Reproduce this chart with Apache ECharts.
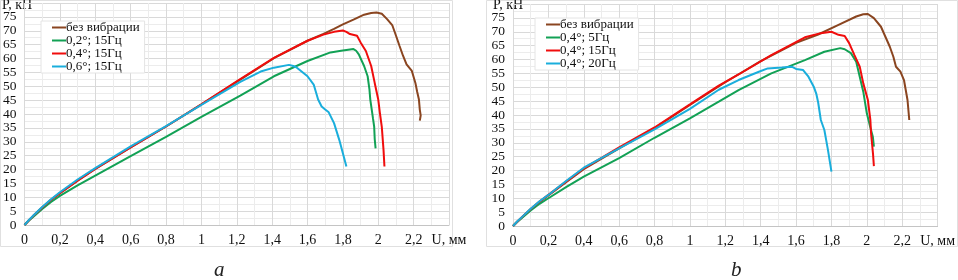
<!DOCTYPE html>
<html style="height: 100%">
<head>
    <meta charset="utf-8">
</head>
<body style="height: 100%; margin: 0; background: #fff">
    <div id="container" style="width: 958px; height: 280px"></div>
    <script src="https://cdn.jsdelivr.net/npm/echarts@6/dist/echarts.min.js"></script>
    <script type="text/javascript">
        // данные: [U, мм ; P, кН]
        var namesA = ['без вибрации', '0,2°; 15Гц', '0,4°; 15Гц', '0,6°; 15Гц'];
        var namesB = ['без вибрации', '0,4°; 5Гц', '0,4°; 15Гц', '0,4°; 20Гц'];
        var colors = ['#8a4520', '#12a155', '#f00d0d', '#1aaedc'];

        // график a
        var brownA = [[0,0],[0.025,1.7],[0.05,3.3],[0.1,6.3],[0.15,9.1],[0.2,11.5],[0.3,16],[0.4,20.2],[0.6,28],[0.8,35.5],[1.0,43.5],[1.2,51.6],[1.41,60.1],[1.6,66.4],[1.69,68.9],[1.75,70.7],[1.8,72.3],[1.86,74],[1.92,75.8],[1.96,76.4],[1.99,76.6],[2.02,76.1],[2.05,74.2],[2.08,71.9],[2.1,68.3],[2.12,64.6],[2.14,61],[2.16,57.9],[2.19,55.5],[2.21,51.2],[2.22,48],[2.23,45.2],[2.235,41.5],[2.24,39.5],[2.235,37.6]];
        var greenA = [[0,0],[0.025,1.6],[0.05,3],[0.1,5.8],[0.15,8.3],[0.2,10.5],[0.3,14.3],[0.4,17.8],[0.6,24.8],[0.8,31.8],[1.0,39],[1.22,46.6],[1.41,53.6],[1.6,59.1],[1.73,62.2],[1.79,62.8],[1.86,63.4],[1.875,62.8],[1.89,61.5],[1.92,57.3],[1.94,53.6],[1.95,49],[1.955,45.2],[1.97,38.5],[1.977,35.4],[1.98,31],[1.985,27.6]];
        var redA = [[0,0],[0.025,1.7],[0.05,3.3],[0.1,6.3],[0.15,9.1],[0.2,11.5],[0.3,16],[0.4,20.2],[0.6,28],[0.8,35.5],[1.0,43.5],[1.2,51.8],[1.41,60.2],[1.6,66.4],[1.69,68.6],[1.75,69.6],[1.8,70.1],[1.82,69.6],[1.84,68.8],[1.88,68.2],[1.9,65.8],[1.93,62.7],[1.96,57.3],[1.98,51.2],[2.0,45.2],[2.01,40],[2.02,35.4],[2.03,26.9],[2.035,21.1]];
        var cyanA = [[0,0],[0.025,1.8],[0.05,3.4],[0.1,6.5],[0.15,9.3],[0.2,11.8],[0.3,16.4],[0.4,20.5],[0.6,28.3],[0.8,35.6],[1.0,43.3],[1.22,51.6],[1.335,55.3],[1.41,56.7],[1.495,57.7],[1.52,57.3],[1.54,56.7],[1.6,53.6],[1.635,50.6],[1.66,45.2],[1.68,42.7],[1.7,41.6],[1.72,40.6],[1.75,36.7],[1.78,30.6],[1.82,21.1]];

        // график b
        var brownB = [[0,0],[0.025,1.6],[0.05,3.1],[0.1,6],[0.15,8.7],[0.2,11],[0.3,15.8],[0.4,20.5],[0.6,28],[0.8,35.3],[1.0,43.6],[1.2,51.8],[1.4,59.4],[1.6,66],[1.725,69],[1.84,72.5],[1.94,75.5],[1.98,76.3],[2.006,76.4],[2.04,74.9],[2.08,71.8],[2.105,68.2],[2.13,64.6],[2.15,61],[2.165,57.4],[2.19,55.6],[2.21,52.6],[2.22,49],[2.23,45.4],[2.24,38.2]];
        var greenB = [[0,0],[0.025,1.5],[0.05,2.9],[0.1,5.6],[0.15,8],[0.2,10],[0.3,14],[0.4,17.8],[0.6,24.5],[0.8,31.8],[1.0,38.8],[1.163,44.8],[1.275,49],[1.46,55],[1.65,59.8],[1.76,62.8],[1.85,64.1],[1.875,63.7],[1.91,62.3],[1.94,59.2],[1.96,53.8],[1.98,48.4],[2.0,40.6],[2.02,35.5],[2.034,32.2],[2.04,28.6]];
        var redB = [[0,0],[0.025,1.6],[0.05,3.2],[0.1,6.1],[0.15,8.8],[0.2,11.2],[0.3,16],[0.4,20.8],[0.6,28.3],[0.8,35.5],[1.0,43.8],[1.163,50.6],[1.275,54.6],[1.46,61.6],[1.65,68],[1.74,69.5],[1.8,70],[1.84,68.9],[1.875,68.5],[1.9,65.9],[1.93,61.6],[1.96,57.4],[1.98,51.4],[2.006,45.4],[2.02,38.2],[2.024,33.4],[2.035,26],[2.04,21.6]];
        var cyanB = [[0,0],[0.025,1.7],[0.05,3.2],[0.1,6.2],[0.15,8.9],[0.2,11.2],[0.3,16.2],[0.4,21],[0.6,28],[0.8,34.8],[1.0,42.2],[1.163,49.1],[1.275,52.6],[1.39,55.6],[1.44,56.8],[1.52,57.1],[1.575,57.4],[1.6,56.6],[1.64,56.2],[1.67,53.8],[1.70,50.2],[1.715,47.5],[1.725,44.5],[1.74,38.2],[1.76,34.6],[1.78,27.5],[1.80,19.6]];

        var dom = document.getElementById('container');
        var myChart = echarts.init(dom, null, { renderer: 'canvas' });
        var font = 'Liberation Serif';

        function xLabel(v) {
            if (Math.abs(v - 2.4) < 1e-6) return 'U, мм';
            return String(+v.toFixed(1)).replace('.', ',');
        }
        function yLabel(v) {
            return v >= 80 ? '' : String(v);
        }
        function xAxis(idx) {
            return {
                type: 'value', gridIndex: idx, min: 0, max: 2.4, interval: 0.2,
                axisLine: { show: true, lineStyle: { color: '#c4c4c4' } },
                axisTick: { show: false },
                axisLabel: { formatter: xLabel, color: '#111', fontFamily: font, fontSize: 14, margin: 8, showMinLabel: true, showMaxLabel: true, hideOverlap: false },
                splitLine: { show: true, lineStyle: { color: '#d9d9d9' } },
                minorTick: { show: false, splitNumber: 2 },
                minorSplitLine: { show: true, lineStyle: { color: '#ececec' } }
            };
        }
        function yAxis(idx) {
            return {
                type: 'value', gridIndex: idx, min: 0, max: 80, interval: 5,
                axisLine: { show: false },
                axisTick: { show: false },
                axisLabel: { formatter: yLabel, color: '#111', fontFamily: font, fontSize: 13.5, margin: 8, showMinLabel: true, showMaxLabel: true, hideOverlap: false },
                splitLine: { show: true, lineStyle: { color: '#d9d9d9' } },
                minorTick: { show: false, splitNumber: 2 },
                minorSplitLine: { show: true, lineStyle: { color: '#ececec' } }
            };
        }
        function line(name, data, color, idx) {
            return {
                name: name, type: 'line', data: data, xAxisIndex: idx, yAxisIndex: idx,
                showSymbol: false, silent: true,
                lineStyle: { color: color, width: 2 }, itemStyle: { color: color }
            };
        }
        function legend(names, left, top) {
            return {
                data: names, orient: 'vertical', left: left, top: top,
                icon: 'rect', itemWidth: 14, itemHeight: 2, itemGap: 0,
                padding: [0, 5, 0, 11],
                backgroundColor: '#fff', borderColor: '#e4e4e4', borderWidth: 1,
                selectedMode: false,
                textStyle: { fontFamily: font, fontSize: 13, color: '#111', lineHeight: 12.6, height: 12.6, padding: [0, 0, 0, -5] }
            };
        }

        var option = {
            animation: false,
            backgroundColor: '#fff',
            grid: [
                { left: 23, right: 509, top: 3, height: 222 },
                { left: 513, right: 18, top: 4, height: 222 }
            ],
            xAxis: [xAxis(0), xAxis(1)],
            yAxis: [yAxis(0), yAxis(1)],
            legend: [legend(namesA, 41, 21), legend(namesB, 535, 18)],
            graphic: [
                { type: 'rect', shape: { x: 0.5, y: 0.5, width: 452, height: 246 }, style: { fill: null, stroke: '#e0e0e0', lineWidth: 1 }, silent: true },
                { type: 'rect', shape: { x: 486.5, y: 0.5, width: 471, height: 246 }, style: { fill: null, stroke: '#e0e0e0', lineWidth: 1 }, silent: true },
                { type: 'text', left: 2, top: -2, style: { text: 'P, кН', font: '14px "Liberation Serif"', fill: '#111' } },
                { type: 'text', left: 493, top: -2, style: { text: 'P, кН', font: '14px "Liberation Serif"', fill: '#111' } },
                { type: 'text', left: 214, top: 260, style: { text: 'a', font: 'italic 21px "Liberation Serif"', fill: '#222' } },
                { type: 'text', left: 731, top: 260, style: { text: 'b', font: 'italic 21px "Liberation Serif"', fill: '#222' } }
            ],
            series: [
                line(namesA[0], brownA, colors[0], 0),
                line(namesA[1], greenA, colors[1], 0),
                line(namesA[2], redA, colors[2], 0),
                line(namesA[3], cyanA, colors[3], 0),
                line(namesB[0], brownB, colors[0], 1),
                line(namesB[1], greenB, colors[1], 1),
                line(namesB[2], redB, colors[2], 1),
                line(namesB[3], cyanB, colors[3], 1)
            ]
        };

        myChart.setOption(option);
    </script>
</body>
</html>
